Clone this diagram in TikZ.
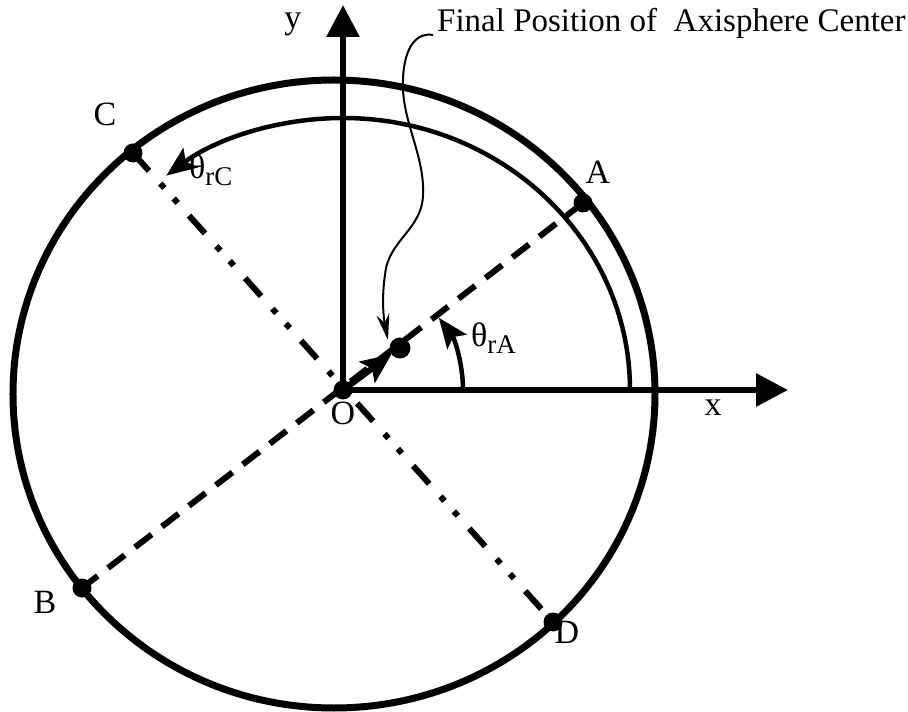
\documentclass[tikz,border=0pt]{standalone}
\usepackage{fontspec}
\setmainfont{Liberation Serif}
\usetikzlibrary{arrows.meta}

\begin{document}
\begin{tikzpicture}[x=1pt,y=1pt,
  rim/.style={line width=7pt},
  track/.style={line width=4.5pt,-{Stealth[length=30pt,width=24pt,inset=6pt]}},
  axis/.style={line width=6pt,-{Triangle[length=32pt,width=32pt]}},
  diam/.style={line width=6pt,dash pattern=on 21pt off 13pt},
  diamdd/.style={line width=6pt,dash pattern=on 24pt off 17pt on 6pt off 14pt on 6pt off 17pt},
  spot/.style={circle,fill=black,inner sep=0pt,minimum size=19pt},
  lbl/.style={font=\fontsize{34}{36}\selectfont,inner sep=0pt}]
\useasboundingbox (-343,-322) rectangle (565,390);

% points on the rim and the centre
\node[spot] (O) at (0,0) {};
\node[spot] (A) at (240,187) {};
\node[spot] (B) at (-261,-198) {};
\node[spot] (C) at (-210,237) {};
\node[spot] (D) at (210,-232) {};
\node[spot,minimum size=21pt] (ctr) at (57,42) {};

% diameters
\draw[diam] (A.center) -- (B.center);
\draw[diamdd] (C.center) -- (D.center);

% outer rim and the inner rotation arc
\draw[rim] (-9,-4) ellipse [x radius=321, y radius=314];
\draw[track] (287,0) arc[start angle=0,end angle=128,x radius=287,y radius=272];
\draw[track] (120,0) arc[start angle=0,end angle=37,radius=120];

% axes
\coordinate (xend) at (445,0);
\coordinate (yend) at (0,385);
\draw[axis] (O.center) -- (xend);
\draw[axis] (O.center) -- (yend);

% shift of the axisphere centre
\draw[line width=6pt,-{Stealth[length=30pt,width=26pt,inset=6pt]}] (O.center) -- (ctr);

% labels
\node[lbl] (ylab) at (-50,366) {y};
\node[lbl] (xlab) at (370,-18) {x};
\node[lbl] (Olab) at (0,-23) {O};
\node[lbl] (Alab) at (255,218) {A};
\node[lbl] (Blab) at (-298,-212) {B};
\node[lbl] (Clab) at (-238,276) {C};
\node[lbl] (Dlab) at (224,-242) {D};
\node[lbl,anchor=west] (thA) at (128,52) {θ\raisebox{-0.45ex}{\fontsize{27}{29}\selectfont rA}};
\node[lbl,anchor=west] (thC) at (-154,220) {θ\raisebox{-0.45ex}{\fontsize{27}{29}\selectfont rC}};
\node[lbl,font=\fontsize{33}{36}\selectfont,anchor=base west] (title) at (94,358) {Final Position of~~Axisphere Center};

% leader to the final position
\coordinate (lead) at (90,355);
\coordinate (tip) at (45,50);
\draw[line width=2pt,-{Stealth[length=26pt,width=13pt]}] (lead)
  .. controls (75,358) and (61,345) .. (60,310)
  .. controls (58,270) and (82,235) .. (80,195)
  .. controls (79,160) and (45,150) .. (42,115)
  .. controls (39,95) and (40,75) .. (tip);
\end{tikzpicture}
\end{document}
